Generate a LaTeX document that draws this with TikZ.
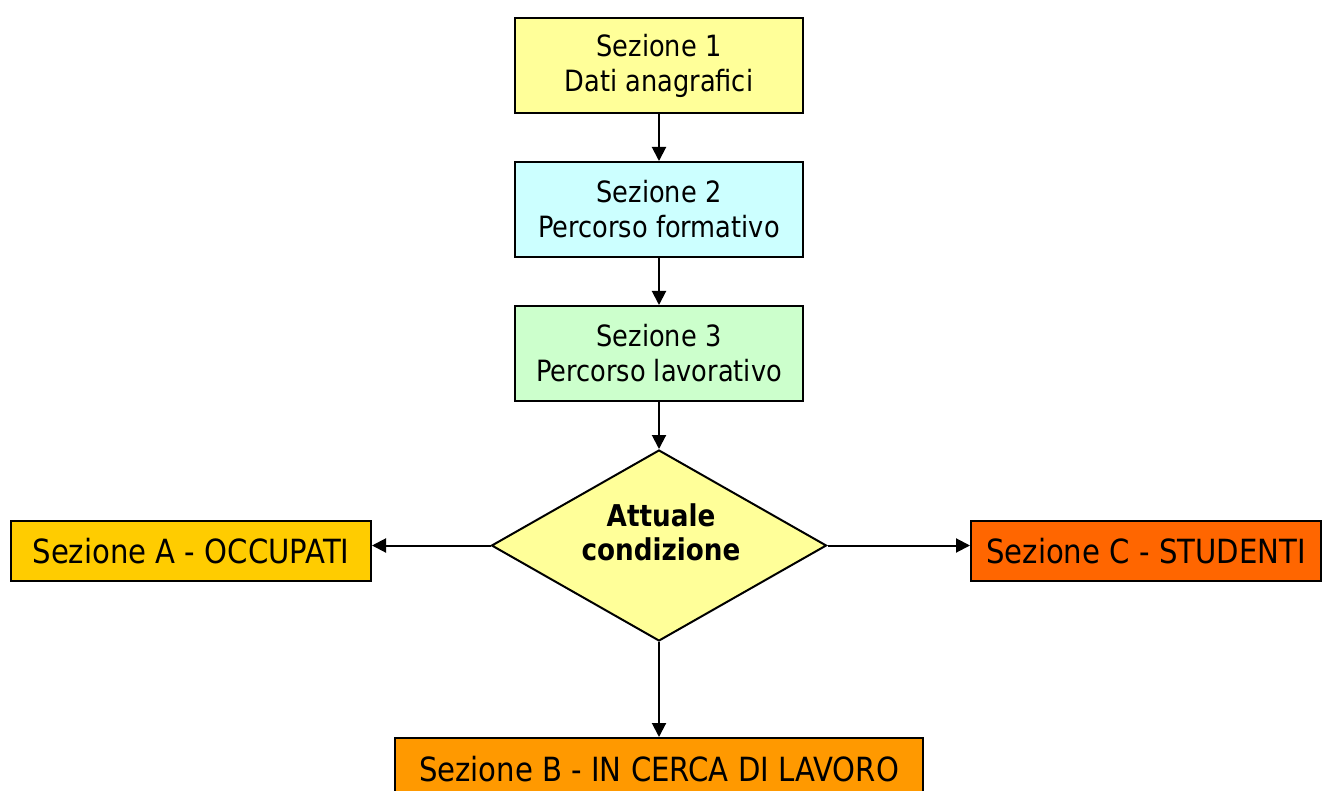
\documentclass[tikz,border=0pt]{standalone}
\usepackage{fontspec}
\setmainfont{DejaVu Sans}[FakeStretch=0.875]
\usetikzlibrary{shapes.geometric,arrows.meta}
\definecolor{cyel}{HTML}{FFFF99}
\definecolor{ccya}{HTML}{CCFFFF}
\definecolor{cgre}{HTML}{CCFFCC}
\definecolor{cgold}{HTML}{FFCC00}
\definecolor{cred}{HTML}{FF6600}
\definecolor{cora}{HTML}{FF9900}
\begin{document}
\begin{tikzpicture}[x=1pt,y=-1pt,
  box/.style={draw=black,line width=2pt,inner sep=0pt,align=center,
    font=\fontsize{29.3}{35}\selectfont},
  sbox/.style={box,minimum width=288pt,minimum height=95pt},
  wbox/.style={box,minimum height=60pt,font=\fontsize{33.3}{38}\selectfont},
  conn/.style={line width=2pt,-{Triangle[length=14pt,width=14pt]}}]
\clip (0,0) rectangle (1322,791);
\fill[white] (0,0) rectangle (1322,791);
\node[sbox,fill=cyel] (s1) at (659,65.5) {Sezione 1\\Dati anagrafici};
\node[sbox,fill=ccya] (s2) at (659,209.5) {Sezione 2\\Percorso formativo};
\node[sbox,fill=cgre] (s3) at (659,353.5) {Sezione 3\\Percorso lavorativo};
\node[diamond,draw=black,line width=2pt,fill=cyel,inner sep=0pt,
  minimum width=335pt,minimum height=191pt] (d) at (659,545.5) {};
\node[align=center,font=\fontsize{30}{34}\bfseries\selectfont] (dt) at (661,532) {Attuale\\condizione};
\node[wbox,fill=cgold,minimum width=360pt] (a) at (191,551) {Sezione A - OCCUPATI};
\node[wbox,fill=cred,minimum width=350pt] (c) at (1146,551) {Sezione C - STUDENTI};
\node[wbox,fill=cora,minimum width=528pt,minimum height=62pt] (b) at (659,769) {Sezione B - IN CERCA DI LAVORO};
\draw[conn] (s1.south) -- (s2.north);
\draw[conn] (s2.south) -- (s3.north);
\draw[conn] (s3.south) -- (d.north);
\draw[conn] (d.west) -- (d.west -| a.east);
\draw[conn] (d.east) -- (d.east -| c.west);
\draw[conn] (d.south) -- (b.north);
\end{tikzpicture}
\end{document}
